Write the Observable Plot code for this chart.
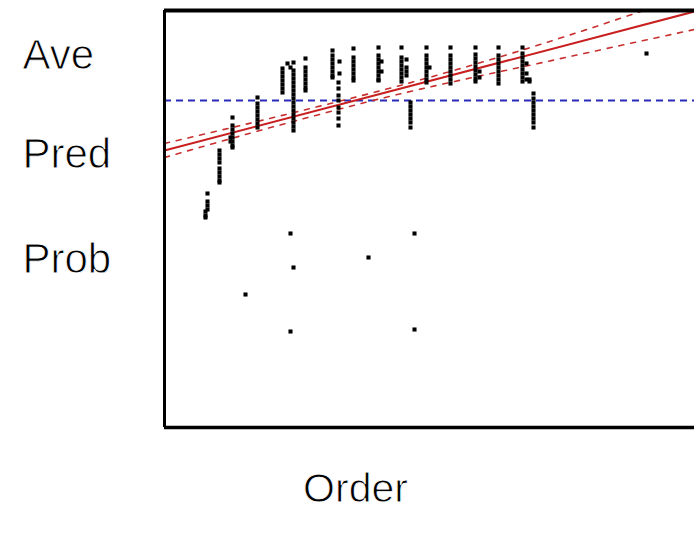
<!DOCTYPE html>
<html>
<head>
<meta charset="utf-8">
<script src="https://cdn.jsdelivr.net/npm/d3@7"></script>
<script src="https://cdn.jsdelivr.net/npm/@observablehq/plot@0.6"></script>
<style>
  html, body { margin: 0; padding: 0; background: #fff; overflow: hidden; }
</style>
</head>
<body>
<div id="chart"></div>
<script>
// Row labels on the left (tick values in y units) and x title
const tickValues = [93.1, 68.35, 42.1];
const tickLabels = ["Ave", "Pred", "Prob"];
const xTitle = "Order";

// Observations: one x per column, with the y values of its stacked points
const columnX = [8.6, 8.2, 11, 13.6, 13.2, 16.2, 18.6, 23.6, 24.6, 25.2, 25.8, 28.2, 33.6, 35, 34.8, 37.8, 40.8, 42.8, 43.4, 47.4, 48.4, 49.2, 50, 52.4, 53, 57.2, 62.2, 63, 66.8, 71.6, 72.4, 73, 73.8, 96.4];
const columnY = [
  [58.5, 56.5, 55.5, 54.5],
  [54, 53, 52.5],
  [69.25, 68.25, 67.25, 66.25, 64.75, 63.75, 62.75, 61.75, 61.25],
  [77.5, 75.5, 74.5, 73.5, 72.5, 71.5, 70.5, 70],
  [72.5, 71.5],
  [33.25],
  [82.5, 81, 80, 79, 78, 77, 76, 75],
  [89.75, 88.75, 87.75, 86.75, 85.75, 84.75, 83.75],
  [91],
  [90, 48.5, 24],
  [91.25, 89.25, 88.25, 87.25, 86.25, 85.25, 84.25, 83.25, 82.25, 81.25, 80.25, 79.25, 78.25, 77.25, 76.25, 75.25, 74.25, 40],
  [92.25, 90, 89, 88, 87, 86, 85, 84.25],
  [94.25, 93, 92, 91, 90, 89, 88, 87.5],
  [91.5, 88.5],
  [86.25, 84.75, 83, 81.75, 80, 78.75, 77.25, 75.5],
  [94.75, 92.5, 91.5, 90.5, 89.5, 88.5, 87.5, 86.75],
  [42.5],
  [95, 93, 92, 91, 90, 89, 88, 87, 86.75],
  [91.5, 89],
  [95, 92.5, 91.5, 90.5, 89.5, 88.5, 87.5, 86.5],
  [92, 90, 89, 88],
  [81.25, 80.25, 79.25, 78.25, 77.25, 76.25, 75],
  [48.5, 24.5],
  [95, 93, 92, 91, 90, 89, 88, 87, 86.25],
  [90],
  [95, 93, 92, 91, 90, 89, 88, 87, 86],
  [95, 93.25, 92.25, 91.25, 90.25, 89.25, 88.25, 87.25, 86.5],
  [89, 87.5],
  [95, 93, 92, 91, 90, 89, 88, 87, 86],
  [95, 93.5, 92.5, 91.5, 90.5, 89.5, 88.5, 87.5, 86.5],
  [91, 88.5, 87],
  [87, 86.5],
  [83.5, 82.25, 81.25, 80.25, 79.25, 78.25, 77.25, 76.25, 75],
  [93.5]
];

// Average line
const aveValue = 81.75;

// Fitted line (end points) and its confidence band
const fitX = [0, 106];
const fitY = [69.25, 104];
const bandX = [0, 17.2, 33.2, 51.2, 73.2, 91.2, 106];
const bandUpper = [71, 76.1, 81, 86.9, 95, 102.3, 108.5];
const bandLower = [67.5, 73.6, 79, 84.6, 90.6, 95.5, 99.5];

const points = columnX.flatMap((x, i) => columnY[i].map(y => ({x, y})));
const fit = fitX.map((x, i) => ({x, y: fitY[i]}));
const upper = bandX.map((x, i) => ({x, y: bandUpper[i]}));
const lower = bandX.map((x, i) => ({x, y: bandLower[i]}));

const xDomain = [0, 106];
const yDomain = [0, 104.25];
const font = "Liberation Sans, Arial, Helvetica, sans-serif";

const chart = Plot.plot({
  width: 694,
  height: 546,
  marginTop: 10,
  marginBottom: 119,
  marginLeft: 164,
  marginRight: 0,
  style: {background: "#fff", fontFamily: font},
  x: {domain: xDomain, axis: null},
  y: {domain: yDomain, axis: null},
  marks: [
    Plot.ruleY([aveValue], {stroke: "#2a2ab8", strokeWidth: 2, strokeDasharray: "7,5"}),
    Plot.line(upper, {x: "x", y: "y", curve: "natural", stroke: "#c83030", strokeWidth: 1.6, strokeDasharray: "5,7", clip: true}),
    Plot.line(lower, {x: "x", y: "y", curve: "natural", stroke: "#c83030", strokeWidth: 1.6, strokeDasharray: "5,7", clip: true}),
    Plot.line(fit, {x: "x", y: "y", stroke: "#c82020", strokeWidth: 2, clip: true}),
    Plot.dot(points, {x: "x", y: "y", symbol: "square", r: 2.3, fill: "#000", stroke: "none"}),
    Plot.ruleY([yDomain[1]], {stroke: "#000", strokeWidth: 4}),
    Plot.ruleY([yDomain[0]], {stroke: "#000", strokeWidth: 3.5}),
    Plot.ruleX([xDomain[0]], {stroke: "#000", strokeWidth: 3, y1: yDomain[0], y2: yDomain[1]}),
    Plot.text(tickLabels, {
      y: (d, i) => tickValues[i],
      frameAnchor: "left",
      textAnchor: "start",
      dx: -142,
      fontSize: 42,
      fill: "#000",
      stroke: "#fff",
      strokeWidth: 0.9,
      paintOrder: "normal",
      text: d => d
    }),
    Plot.text([xTitle], {
      frameAnchor: "bottom", dx: -74, dy: 74, fontSize: 41,
      fill: "#000", stroke: "#fff", strokeWidth: 0.9, paintOrder: "normal",
      text: d => d
    })
  ]
});
document.getElementById("chart").appendChild(chart);
</script>
</body>
</html>
